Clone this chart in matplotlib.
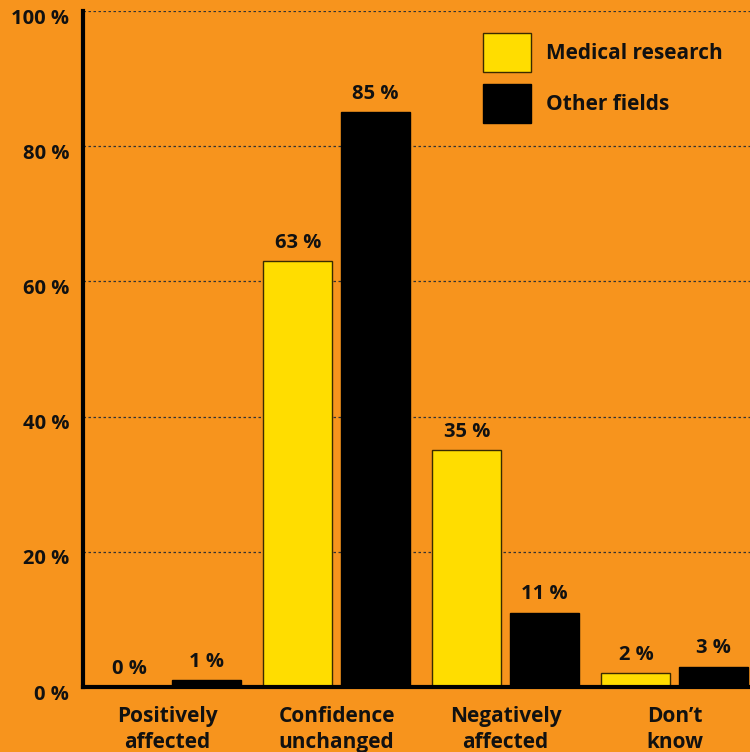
import numpy as np
import matplotlib.pyplot as plt
import matplotlib.transforms as mtransforms
from matplotlib.patches import Patch

# data
categories = ["Positively\naffected", "Confidence\nunchanged", "Negatively\naffected", "Don\u2019t\nknow"]
medical = [0, 63, 35, 2]
other = [1, 85, 11, 3]
series_names = ["Medical research", "Other fields"]
yticks = [0, 20, 40, 60, 80, 100]

bg = "#F7941D"
yellow = "#FFDD00"
ink = "#111111"

plt.rcParams['font.family'] = ['Open Sans', 'DejaVu Sans']
plt.rcParams['font.weight'] = 'bold'

fig = plt.figure(figsize=(7.5, 7.52), dpi=100, facecolor=bg)
ax = fig.add_axes([83 / 750, 1 - 687 / 752, 1 - 83 / 750, (687 - 11) / 752])
ax.set_facecolor(bg)

x = np.arange(len(categories))
w = 0.408
off = 0.228
b1 = ax.bar(x - off, medical, w, color=yellow, edgecolor="#3a2a00", linewidth=1.0, zorder=3)
b2 = ax.bar(x + off, other, w, color="black", edgecolor="black", linewidth=1.0, zorder=3)

for bars, vals in ((b1, medical), (b2, other)):
    for r, v in zip(bars, vals):
        ax.annotate(f"{v} %", (r.get_x() + r.get_width() / 2, v),
                    xytext=(0, 6), textcoords="offset points",
                    ha="center", va="bottom", fontsize=14.5, fontweight="bold", color=ink)

ax.set_xlim(-0.5, -0.5 + 667 / 169)
ax.set_ylim(0, 100)
ax.set_yticks(yticks)
ax.set_yticklabels([f"{t} %" for t in yticks], fontsize=14.5, fontweight="bold", color=ink)
ax.tick_params(axis="y", length=0, pad=10)
shift = mtransforms.ScaledTranslation(0, -5 / 100, fig.dpi_scale_trans)
for lab in ax.get_yticklabels():
    lab.set_transform(lab.get_transform() + shift)
ax.set_xticks(x)
ax.set_xticklabels(categories, fontsize=15, fontweight="bold", color=ink, linespacing=1.3)
ax.tick_params(axis="x", length=0, pad=14)

for t in yticks[1:]:
    ax.axhline(t, color="#333333", linestyle=(0, (2, 2)), linewidth=0.9, zorder=1)

for s in ("top", "right"):
    ax.spines[s].set_visible(False)
ax.spines["left"].set_linewidth(3)
ax.spines["bottom"].set_linewidth(3)
ax.spines["left"].set_zorder(4)
ax.spines["bottom"].set_zorder(4)

handles = [Patch(facecolor=yellow, edgecolor="#3a2a00", linewidth=1.0),
           Patch(facecolor="black", edgecolor="black")]
leg = fig.legend(handles, series_names, loc="upper left",
                 bbox_to_anchor=(483 / 750, 1 - 33 / 752),
                 frameon=False, fontsize=15, handlelength=2.3, handleheight=2.5,
                 labelspacing=0.6, handletextpad=0.7, borderpad=0, borderaxespad=0)
for t in leg.get_texts():
    t.set_fontweight("bold")
    t.set_color(ink)

fig.savefig("out.png", dpi=100, facecolor=bg)
